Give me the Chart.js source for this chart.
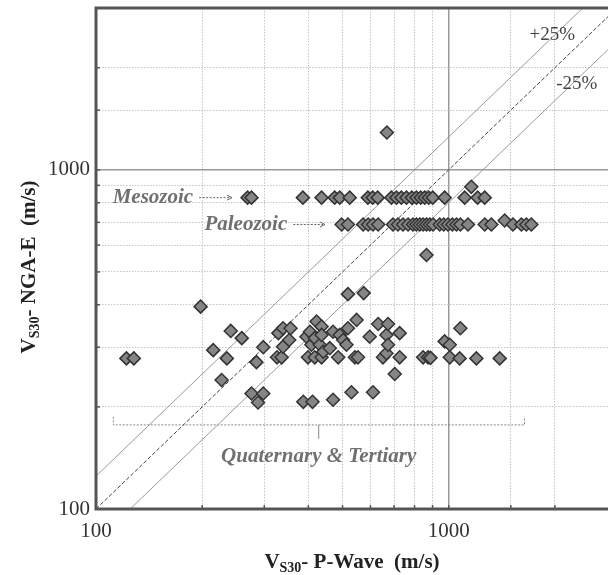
<!DOCTYPE html>
<html>
<head>
<meta charset="utf-8">
<script src="https://cdn.jsdelivr.net/npm/chart.js@4.4.1/dist/chart.umd.min.js"></script>
<style>
  body { margin: 0; background: #fff; overflow: hidden; }
  #wrap { width: 640px; height: 575px; }
</style>
</head>
<body>
<div id="wrap"><canvas id="vsChart" width="640" height="575"></canvas></div>
<script>
// Vs30 from P-wave vs NGA-E, grouped by geology
const mesozoicX = [269, 276, 386, 436, 475, 491, 524, 590, 609, 629, 688, 711, 734, 759, 786, 810, 833, 855, 878, 901, 974, 1110, 1159, 1208, 1265, 668];
const mesozoicY = [828, 828, 828, 828, 828, 828, 828, 828, 828, 828, 828, 828, 828, 828, 828, 828, 828, 828, 828, 828, 828, 828, 891, 828, 828, 1288];

const paleozoicX = [497, 518, 572, 591, 610, 631, 695, 718, 742, 767, 792, 810, 828, 846, 865, 884, 903, 943, 968, 995, 1024, 1052, 1079, 1134, 1265, 1321, 1441, 1521, 1607, 1660, 1715, 865];
const paleozoicY = [690, 690, 690, 690, 690, 690, 690, 690, 690, 690, 690, 690, 690, 690, 690, 690, 690, 690, 690, 690, 690, 690, 690, 690, 690, 690, 709, 690, 690, 690, 690, 561];

const quaternaryX = [122, 128, 198, 215, 227, 235, 241, 259, 276, 285, 288, 298, 298, 326, 329, 336, 339, 339, 353, 356,
  387, 395, 399, 404, 408, 411, 417, 417, 422, 431, 436, 436, 436, 441, 460, 470, 470, 486, 491, 502, 513, 518, 518, 530, 542, 548, 553, 574,
  597, 610, 631, 651, 666, 666, 673, 673, 703, 726, 726, 846, 874, 888, 974, 1007, 1007, 1074, 1079, 1198, 1395];
const quaternaryY = [278, 278, 395, 294, 240, 278, 335, 319, 219, 271, 206, 300, 219, 280, 330, 280, 341, 301, 315, 341,
  207, 322, 280, 333, 305, 207, 319, 280, 357, 305, 345, 326, 280, 291, 298, 333, 210, 280, 326, 315, 305, 341, 430, 221, 280, 361, 280, 433,
  322, 221, 351, 280, 326, 288, 351, 305, 250, 330, 280, 280, 280, 279, 312, 305, 280, 278, 341, 278, 278];

// reference lines: NGA-E = ratio * P-wave
const refRatios = [1.25, 1, 0.8];
const refStyles = [
  { color: '#9a9a9a', dash: [] },
  { color: '#444', dash: [4, 2] },
  { color: '#9a9a9a', dash: [] }
];
const axisMin = 100;
const axisMax = 3000;
const tickLabels = [100, 1000];

function toPoints(xs, ys) {
  return xs.map((x, i) => ({ x: x, y: ys[i] }));
}

function refLine(r) {
  // two end points clipped to the axis box
  const x0 = Math.max(axisMin, axisMin / r);
  const x1 = Math.min(axisMax, axisMax / r);
  return [{ x: x0, y: x0 * r }, { x: x1, y: x1 * r }];
}

const pointStyle = {
  type: 'scatter',
  pointStyle: 'rectRot',
  pointRadius: 6.5,
  pointHoverRadius: 6.5,
  backgroundColor: '#858585',
  borderColor: '#333',
  pointBorderWidth: 1.5,
  order: 0
};

const datasets = [
  Object.assign({ label: 'Mesozoic', data: toPoints(mesozoicX, mesozoicY) }, pointStyle),
  Object.assign({ label: 'Paleozoic', data: toPoints(paleozoicX, paleozoicY) }, pointStyle),
  Object.assign({ label: 'Quaternary & Tertiary', data: toPoints(quaternaryX, quaternaryY) }, pointStyle)
];
refRatios.forEach((r, i) => {
  datasets.push({
    type: 'line',
    label: 'ratio ' + r,
    data: refLine(r),
    borderColor: refStyles[i].color,
    borderDash: refStyles[i].dash,
    borderWidth: 1,
    pointRadius: 0,
    fill: false,
    order: 1
  });
});

const serif = '"Liberation Serif", "Times New Roman", serif';

function drawTitle(ctx, cx, cy, parts, rotate) {
  ctx.save();
  ctx.translate(cx, cy);
  if (rotate) ctx.rotate(-Math.PI / 2);
  let total = 0;
  parts.forEach(p => {
    ctx.font = 'bold ' + p.size + 'px ' + serif;
    p.w = ctx.measureText(p.t).width;
    total += p.w;
  });
  let x = -total / 2;
  ctx.fillStyle = '#222';
  ctx.textBaseline = 'alphabetic';
  parts.forEach(p => {
    ctx.font = 'bold ' + p.size + 'px ' + serif;
    ctx.fillText(p.t, x, 7 + (p.dy || 0));
    x += p.w;
  });
  ctx.restore();
}

function dottedArrow(ctx, x0, x1, y) {
  ctx.save();
  ctx.strokeStyle = '#666';
  ctx.lineWidth = 1;
  ctx.setLineDash([2, 1.5]);
  ctx.beginPath();
  ctx.moveTo(x0, y);
  ctx.lineTo(x1 - 2, y);
  ctx.stroke();
  ctx.setLineDash([]);
  ctx.beginPath();
  ctx.moveTo(x1 - 5, y - 2.5);
  ctx.lineTo(x1, y);
  ctx.lineTo(x1 - 5, y + 2.5);
  ctx.stroke();
  ctx.restore();
}

const annotations = {
  id: 'annotations',
  beforeDatasetsDraw(chart) {
    const { ctx, chartArea: a } = chart;
    const xs = chart.scales.x, ys = chart.scales.y;
    const px = v => xs.getPixelForValue(v);
    const py = v => ys.getPixelForValue(v);

    // small inward tick marks along the bottom axis
    ctx.save();
    ctx.strokeStyle = '#555';
    ctx.lineWidth = 1.5;
    xs.ticks.forEach(t => {
      const x = px(t.value);
      ctx.beginPath();
      ctx.moveTo(x, a.bottom);
      ctx.lineTo(x, a.bottom - 4);
      ctx.stroke();
    });
    ys.ticks.forEach(t => {
      const y = py(t.value);
      ctx.beginPath();
      ctx.moveTo(a.left, y);
      ctx.lineTo(a.left + 4, y);
      ctx.stroke();
    });
    ctx.restore();

    // bracket under the Quaternary & Tertiary group
    ctx.save();
    ctx.strokeStyle = '#888';
    ctx.lineWidth = 1;
    ctx.setLineDash([2, 1.5]);
    ctx.beginPath();
    ctx.moveTo(px(112), py(187));
    ctx.lineTo(px(112), py(177));
    ctx.lineTo(px(1640), py(177));
    ctx.lineTo(px(1640), py(187));
    ctx.stroke();
    ctx.setLineDash([]);
    ctx.beginPath();
    ctx.moveTo(px(428), py(177));
    ctx.lineTo(px(428), py(161));
    ctx.stroke();
    ctx.restore();
  },
  afterDraw(chart) {
    const { ctx, chartArea: a } = chart;
    const xs = chart.scales.x, ys = chart.scales.y;
    const px = v => xs.getPixelForValue(v);
    const py = v => ys.getPixelForValue(v);

    // frame
    ctx.save();
    ctx.strokeStyle = '#555';
    ctx.lineWidth = 3;
    ctx.strokeRect(a.left, a.top, a.right - a.left, a.bottom - a.top);
    ctx.restore();

    ctx.save();
    ctx.textBaseline = 'middle';
    ctx.fillStyle = '#707070';
    ctx.font = 'italic bold 21px ' + serif;
    ctx.textAlign = 'left';
    ctx.fillText('Mesozoic', px(111.5), py(828));
    dottedArrow(ctx, px(111.5) + ctx.measureText('Mesozoic').width + 6, px(243), py(828));
    ctx.fillText('Paleozoic', px(203), py(690));
    dottedArrow(ctx, px(203) + ctx.measureText('Paleozoic').width + 6, px(446), py(690));
    ctx.textAlign = 'center';
    ctx.fillText('Quaternary & Tertiary', px(428), py(143));

    ctx.fillStyle = '#444';
    ctx.font = '19px ' + serif;
    ctx.textAlign = 'left';
    ctx.fillText('+25%', px(1694), py(2500));
    ctx.fillText('-25%', px(2017), py(1792));
    ctx.restore();

    drawTitle(ctx, 352, 561, [
      { t: 'V', size: 21 },
      { t: 'S30', size: 14, dy: 4 },
      { t: '- P-Wave  (m/s)', size: 21 }
    ], false);
    drawTitle(ctx, 28, 267, [
      { t: 'V', size: 21 },
      { t: 'S30', size: 14, dy: 4 },
      { t: '- NGA-E  (m/s)', size: 21 }
    ], true);
  }
};

function gridColor(ctx) {
  return ctx.tick && ctx.tick.value === 1000 ? '#9a9a9a' : '#c4c4c4';
}
function gridWidth(ctx) {
  return ctx.tick && ctx.tick.value === 1000 ? 1.5 : 1;
}
function gridDash(ctx) {
  return ctx.tick && ctx.tick.value === 1000 ? [] : [1.5, 1.5];
}
function tickText(value) {
  return tickLabels.includes(value) ? String(value) : '';
}

const chart = new Chart(document.getElementById('vsChart'), {
  type: 'scatter',
  data: { datasets: datasets },
  plugins: [annotations],
  options: {
    responsive: false,
    animation: false,
    layout: { padding: { left: 0, right: 23, top: 7, bottom: 0 } },
    plugins: {
      legend: { display: false },
      tooltip: { enabled: false }
    },
    scales: {
      x: {
        type: 'logarithmic',
        min: axisMin,
        max: axisMax,
        afterFit: s => { s.height = 66; s.paddingLeft = 0; s.paddingRight = 0; },
        grid: { color: gridColor, lineWidth: gridWidth, drawTicks: false },
        border: { display: false, dash: gridDash },
        ticks: {
          autoSkip: false,
          maxRotation: 0,
          padding: 10,
          color: '#333',
          font: { family: serif, size: 21 },
          callback: tickText
        }
      },
      y: {
        type: 'logarithmic',
        min: axisMin,
        max: axisMax,
        afterFit: s => { s.width = 96; s.paddingTop = 0; s.paddingBottom = 0; },
        grid: { color: gridColor, lineWidth: gridWidth, drawTicks: false },
        border: { display: false, dash: gridDash },
        ticks: {
          autoSkip: false,
          padding: 6,
          color: '#333',
          font: { family: serif, size: 21 },
          callback: tickText
        }
      }
    }
  }
});
</script>
</body>
</html>
